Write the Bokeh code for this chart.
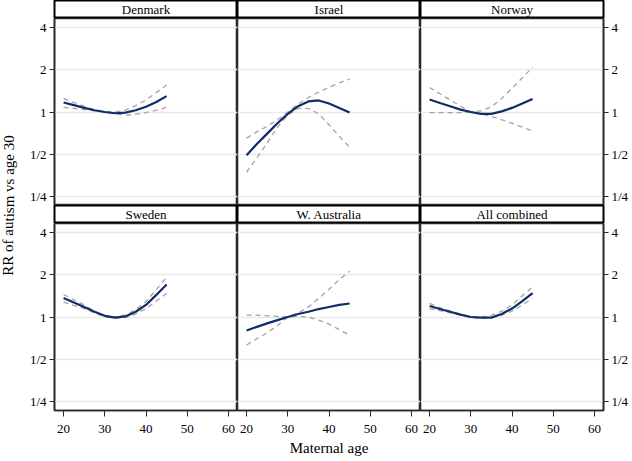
from bokeh.plotting import figure
from bokeh.layouts import row, column
from bokeh.models import Range1d, FixedTicker, Label
from bokeh.core.properties import value
from bokeh.embed import file_html
from bokeh.resources import INLINE

ages = [20, 22.5, 25, 27.5, 30, 32.5, 35, 37.5, 40, 42.5, 45]

countries = ["Denmark", "Israel", "Norway", "Sweden", "W. Australia", "All combined"]

rr = {
    "Denmark":      [1.17, 1.12, 1.07, 1.03, 1.00, 0.98, 0.99, 1.03, 1.09, 1.18, 1.30],
    "Israel":       [0.49, 0.59, 0.70, 0.83, 0.97, 1.10, 1.19, 1.21, 1.15, 1.07, 0.99],
    "Norway":       [1.23, 1.16, 1.10, 1.04, 1.00, 0.97, 0.97, 1.01, 1.07, 1.15, 1.24],
    "Sweden":       [1.37, 1.27, 1.18, 1.09, 1.02, 0.99, 1.01, 1.09, 1.22, 1.44, 1.71],
    "W. Australia": [0.80, 0.85, 0.90, 0.95, 1.00, 1.05, 1.09, 1.14, 1.18, 1.22, 1.25],
    "All combined": [1.20, 1.14, 1.09, 1.04, 1.00, 0.99, 0.99, 1.05, 1.15, 1.30, 1.48],
}
upper = {
    "Denmark":      [1.25, 1.17, 1.10, 1.04, 1.00, 1.00, 1.03, 1.11, 1.22, 1.38, 1.56],
    "Israel":       [0.65, 0.72, 0.79, 0.88, 1.00, 1.14, 1.27, 1.39, 1.50, 1.62, 1.72],
    "Norway":       [1.50, 1.35, 1.22, 1.10, 1.00, 1.02, 1.09, 1.25, 1.48, 1.76, 2.09],
    "Sweden":       [1.45, 1.33, 1.22, 1.10, 1.01, 1.00, 1.03, 1.13, 1.29, 1.57, 1.93],
    "W. Australia": [1.03, 1.03, 1.02, 1.01, 1.00, 1.07, 1.18, 1.36, 1.58, 1.85, 2.13],
    "All combined": [1.25, 1.17, 1.10, 1.05, 1.00, 1.00, 1.03, 1.10, 1.22, 1.42, 1.64],
}
lower = {
    "Denmark":      [1.08, 1.06, 1.04, 1.02, 1.00, 0.97, 0.95, 0.96, 0.99, 1.03, 1.08],
    "Israel":       [0.37, 0.47, 0.60, 0.78, 0.95, 1.06, 1.06, 0.97, 0.81, 0.67, 0.56],
    "Norway":       [0.99, 0.99, 0.99, 0.99, 1.00, 0.97, 0.93, 0.88, 0.83, 0.78, 0.73],
    "Sweden":       [1.28, 1.21, 1.15, 1.07, 1.00, 0.98, 0.99, 1.05, 1.15, 1.30, 1.48],
    "W. Australia": [0.63, 0.70, 0.77, 0.87, 1.00, 1.01, 1.00, 0.95, 0.89, 0.81, 0.74],
    "All combined": [1.15, 1.11, 1.07, 1.03, 0.99, 0.98, 0.99, 1.03, 1.10, 1.22, 1.36],
}

y_ticks = [0.25, 0.5, 1, 2, 4]
y_tick_labels = ["1/4", "1/2", "1", "2", "4"]
x_ticks = [20, 30, 40, 50, 60]

FONT = "Liberation Serif"
FRAME_W = 183
FRAME_H = 187
HEAD_H = 18
LEFT_B = 36
RIGHT_B = 29
BOTTOM_B = 51
LABEL_W = 18
Y_HALF = 2.226  # half-span of the y range in log2 units


def header(name, col):
    lb = LEFT_B if col == 0 else 0
    rb = RIGHT_B if col == 2 else 0
    h = figure(width=FRAME_W + lb + rb, height=HEAD_H, output_backend="svg",
               toolbar_location=None, x_range=Range1d(0, 1), y_range=Range1d(0, 1),
               x_axis_location=None, y_axis_location=None,
               min_border_left=lb, min_border_right=rb, min_border_top=0, min_border_bottom=0)
    h.grid.visible = False
    h.outline_line_color = "black"
    h.outline_line_width = 2
    h.text(x=[0.5], y=[0.5], text=[name], text_align="center", text_baseline="middle",
           text_font=value(FONT), text_font_size="13px", text_color="black")
    return h


def panel(name, r, col):
    lb = LEFT_B if col == 0 else 0
    rb = RIGHT_B if col == 2 else 0
    bb = BOTTOM_B if r == 1 else 0
    yloc = "left" if col == 0 else ("right" if col == 2 else None)
    xloc = "below" if r == 1 else None
    p = figure(width=FRAME_W + lb + rb, height=FRAME_H + bb, output_backend="svg",
               toolbar_location=None, y_axis_type="log",
               x_range=Range1d(17.8, 62.2), y_range=Range1d(2 ** -Y_HALF, 2 ** Y_HALF),
               x_axis_location=xloc, y_axis_location=yloc,
               min_border_left=lb, min_border_right=rb, min_border_top=0,
               min_border_bottom=bb)
    p.outline_line_color = "#2a2a2a"
    p.outline_line_width = 1.6
    p.xgrid.visible = False
    p.ygrid.ticker = FixedTicker(ticks=y_ticks)
    p.ygrid.grid_line_color = "#e9e9e9"
    p.ygrid.grid_line_width = 1.5
    if yloc is not None:
        ax = p.yaxis[0]
        ax.ticker = FixedTicker(ticks=y_ticks)
        ax.major_label_overrides = {t: l for t, l in zip(y_ticks, y_tick_labels)}
        ax.minor_tick_line_color = None
        ax.major_tick_in = 0
        ax.major_tick_out = 5
        ax.major_label_standoff = 3
        ax.axis_line_color = "#2a2a2a"
        ax.axis_line_width = 1.6
        ax.major_tick_line_color = "#2a2a2a"
        ax.major_label_text_font = FONT
        ax.major_label_text_font_size = "13px"
        ax.major_label_text_color = "black"
    if xloc is not None:
        ax = p.xaxis[0]
        ax.ticker = FixedTicker(ticks=x_ticks)
        ax.minor_tick_line_color = None
        ax.major_tick_in = 0
        ax.major_tick_out = 6
        ax.major_label_standoff = 8
        ax.axis_line_color = "#2a2a2a"
        ax.axis_line_width = 1.6
        ax.major_tick_line_color = "#2a2a2a"
        ax.major_label_text_font = FONT
        ax.major_label_text_font_size = "13px"
        ax.major_label_text_color = "black"
        if col == 1:
            ax.axis_label = "Maternal age"
            ax.axis_label_standoff = 4
            ax.axis_label_text_font = FONT
            ax.axis_label_text_font_size = "15px"
            ax.axis_label_text_font_style = "normal"
            ax.axis_label_text_color = "black"
    dash_kw = dict(line_color="#a3a3a3", line_width=1.3, line_dash="5 4")
    p.line(ages, upper[name], **dash_kw)
    p.line(ages, lower[name], **dash_kw)
    p.line(ages, rr[name], line_color="#0f2d69", line_width=2.2)
    return p


label_h = 2 * (HEAD_H + FRAME_H)
label_fig = figure(width=LABEL_W, height=label_h, output_backend="svg",
                   toolbar_location=None, x_axis_location=None, y_axis_location=None,
                   x_range=Range1d(0, 1), y_range=Range1d(0, 1),
                   min_border=0)
label_fig.outline_line_color = None
label_fig.grid.visible = False
label_fig.add_layout(Label(x=8, y=label_h / 2, x_units="screen", y_units="screen",
                           text="RR of autism vs age 30", angle=1.5707963, text_align="center",
                           text_baseline="middle", text_font=FONT, text_font_size="15px",
                           text_color="black"))
label_fig.scatter([0.5], [0.5], size=0, alpha=0)

rows = []
for r in range(2):
    rows.append(row([header(countries[3 * r + c], c) for c in range(3)], spacing=0))
    rows.append(row([panel(countries[3 * r + c], r, c) for c in range(3)], spacing=0))

layout = row(label_fig, column(rows, spacing=0), spacing=0)

open("out.html", "w").write(file_html(layout, INLINE))
